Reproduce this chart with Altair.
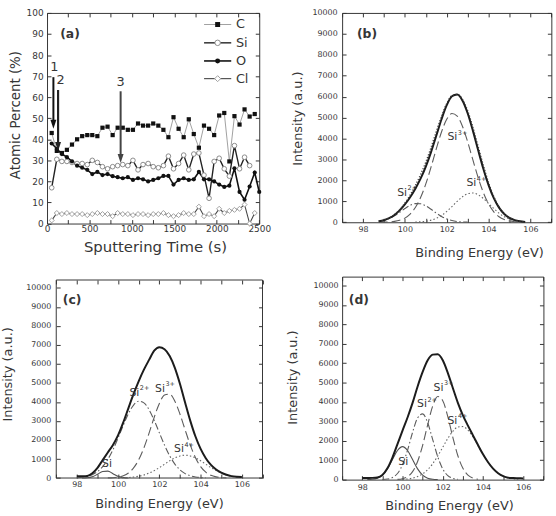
import altair as alt
import pandas as pd

FONT = "DejaVu Sans"
INK = "#363636"
ONE = alt.Data(values=[{}])
ARROW = "M-1,-3L1,-3L0,0Z"

# ---------------- (a) depth profile: atomic percent vs sputtering time ----------------
sputter_time = [55, 115, 175, 234, 294, 354, 414, 474, 533, 593, 653, 713, 773, 832,
                892, 952, 1012, 1072, 1131, 1191, 1251, 1311, 1371, 1430, 1490, 1550,
                1610, 1670, 1729, 1789, 1849, 1909, 1969, 2028, 2088, 2148, 2208, 2268,
                2327, 2387, 2447, 2500]
carbon = [43, 34.5, 33.5, 35, 37.5, 40, 41.5, 42, 42, 41.5, 45.5, 46, 42, 45.5, 45.5, 44.5,
          44.5, 47.5, 46.5, 46.5, 47.5, 46.5, 44.5, 41, 50.5, 45, 41, 49.5, 42.5, 36, 46.5,
          45, 42, 51.3, 52.5, 29.5, 51, 47, 54.2, 50.8, 52]
silicon = [17, 30.5, 29.5, 29.5, 29, 28.5, 28.5, 28, 30, 29, 27, 26, 27, 27.5, 28, 27.5, 30,
           25.5, 28, 28.5, 27, 26.5, 27.5, 32, 26, 28.5, 32.5, 25.5, 33, 33.5, 23, 12, 29.5,
           31, 26, 22.5, 37, 26, 31.5, 27.5]
oxygen = [38, 35.5, 33, 31.5, 29.5, 27.5, 26.5, 25.5, 23.5, 24.5, 23, 23.5, 22.5, 22, 21.5,
          22, 20.7, 21.5, 21, 20, 20.7, 21.5, 22.6, 22.6, 18.5, 20.7, 21.5, 20.7, 21, 24.5,
          21, 21, 20, 18.5, 17.4, 18, 26.2, 15, 11.3, 17.6, 24.2, 15]
chlorine = [1.5, 5, 4.5, 5, 4.5, 4.5, 4.5, 4, 4.5, 5, 4.5, 4.5, 3.5, 5, 4.5, 4.5, 4, 4.5,
            4.5, 4, 4.5, 4.5, 5, 4, 3.5, 4, 5, 4.5, 4.5, 8, 3.5, 4.5, 3.5, 7, 5, 6, 6.5, 7,
            9, 0, 5]

# ---------------- Si 2p spectra and their component fits ----------------
energy_b = [98.75, 99.0, 99.25, 99.5, 99.75, 100.0, 100.25, 100.5, 100.75, 101.0, 101.25,
            101.5, 101.75, 102.0, 102.25, 102.5, 102.75, 103.0, 103.25, 103.5, 103.75, 104.0,
            104.25, 104.5, 104.75, 105.0, 105.25, 105.5, 105.75]
fit_b = [45, 98, 195, 348, 567, 852, 1196, 1605, 2084, 2662, 3352, 4130, 4919, 5594, 6022,
         6106, 5821, 5210, 4377, 3453, 2556, 1773, 1150, 697, 393, 207, 100, 45, 19]
measured_b = [60, 110, 210, 370, 610, 920, 1300, 1760, 2280, 2880, 3580, 4330, 5060, 5680,
              6050, 6110, 5880, 5330, 4540, 3630, 2720, 1900, 1230, 740, 410, 210, 100, 45, 20]
si2_b = [43, 92, 178, 307, 473, 654, 807, 892, 882, 781, 618, 438, 278, 158, 80, 36, 15, 5,
         0, 0, 0, 0, 0, 0, 0, 0, 0, 0, 0]
si3_b = [2, 6, 17, 41, 94, 198, 389, 704, 1180, 1832, 2633, 3503, 4314, 4919, 5192, 5073,
         4589, 3843, 2979, 2138, 1420, 874, 497, 262, 128, 58, 24, 9, 3]
si4_b = [0, 0, 0, 0, 0, 0, 0, 9, 22, 49, 101, 189, 327, 517, 750, 997, 1217, 1362, 1398,
         1315, 1136, 899, 653, 435, 265, 149, 76, 36, 16]

energy_cd = [98.0, 98.25, 98.5, 98.75, 99.0, 99.25, 99.5, 99.75, 100.0, 100.25, 100.5,
             100.75, 101.0, 101.25, 101.5, 101.75, 102.0, 102.25, 102.5, 102.75, 103.0,
             103.25, 103.5, 103.75, 104.0, 104.25, 104.5, 104.75, 105.0, 105.25, 105.5,
             105.75, 106.0]
fit_c = [90, 95, 110, 250, 537, 944, 1345, 1741, 2254, 2928, 3682, 4424, 5102, 5702, 6216,
         6700, 6880, 6780, 6420, 5800, 4950, 3963, 3009, 2185, 1532, 1045, 691, 450, 283,
         170, 100, 70, 60]
si0_c = [0, 2, 14, 68, 198, 347, 365, 230, 87, 20, 3, 0, 0, 0, 0, 0, 0, 0, 0, 0, 0, 0, 0,
         0, 0, 0, 0, 0, 0, 0, 0, 0, 0]
si2_c = [17, 39, 87, 178, 339, 597, 980, 1493, 2112, 2775, 3387, 3840, 4044, 3956, 3593,
         3032, 2377, 1730, 1170, 735, 428, 232, 117, 55, 24, 10, 0, 0, 0, 0, 0, 0, 0]
si3_c = [0, 0, 0, 0, 0, 0, 6, 18, 49, 120, 265, 531, 963, 1584, 2363, 3199, 3927, 4373,
         4415, 4044, 3359, 2531, 1729, 1071, 602, 307, 142, 60, 23, 8, 0, 0, 0]
si4_c = [0, 0, 0, 0, 0, 0, 0, 0, 6, 13, 27, 53, 95, 162, 260, 390, 549, 728, 906, 1059,
         1163, 1200, 1163, 1059, 906, 728, 549, 390, 260, 162, 95, 53, 27]

fit_d = [80, 85, 90, 110, 236, 581, 1136, 1828, 2528, 3202, 3954, 4800, 5550, 6150, 6440,
         6460, 6150, 5500, 4720, 3956, 3315, 2782, 2280, 1783, 1303, 893, 566, 332, 181,
         100, 80, 70, 60]
si0_d = [0, 4, 19, 75, 230, 552, 1031, 1500, 1700, 1500, 1031, 552, 230, 75, 19, 4, 0, 0,
         0, 0, 0, 0, 0, 0, 0, 0, 0, 0, 0, 0, 0, 0, 0]
si2_d = [0, 0, 0, 0, 6, 29, 105, 315, 765, 1513, 2433, 3182, 3386, 2930, 2062, 1180, 550,
         208, 64, 16, 0, 0, 0, 0, 0, 0, 0, 0, 0, 0, 0, 0, 0]
si3_d = [0, 0, 0, 0, 0, 0, 0, 13, 48, 153, 411, 930, 1768, 2825, 3795, 4285, 4068, 3246,
         2177, 1228, 582, 232, 78, 22, 0, 0, 0, 0, 0, 0, 0, 0, 0]
si4_d = [0, 0, 0, 0, 0, 0, 0, 0, 15, 36, 79, 159, 296, 512, 820, 1216, 1668, 2119, 2491,
         2712, 2733, 2550, 2202, 1761, 1303, 893, 566, 332, 181, 91, 42, 18, 0]


def axis(orient, values, offset, pad=2, size=8, title=None, tx=0, ty=0, tsize=13,
         expr=None, labels=True):
    kw = dict(orient=orient, values=values, offset=offset, domain=False, grid=False,
              tickSize=4, tickColor=INK, tickWidth=1, labels=labels, labelFont=FONT,
              labelFontSize=size, labelColor=INK, labelPadding=pad, labelOverlap=False,
              labelFlush=False, format="d")
    if expr:
        kw["labelExpr"] = expr
    if title:
        kw.update(title=title, titleFont=FONT, titleFontSize=tsize, titleFontWeight="normal",
                  titleColor=INK, titleX=tx, titleY=ty, titleBaseline="middle",
                  titleAlign="center", titleAngle=270 if orient == "left" else 0)
    else:
        kw["title"] = None
    return alt.Axis(**kw)


def at(sx, sy, x, y):
    return dict(x=alt.X(datum=x, type="quantitative", scale=sx, axis=None),
                y=alt.Y(datum=y, type="quantitative", scale=sy, axis=None))


def edge_ticks(sx, sy, xvals, yvals, top_off=-4, right_off=-4):
    # invisible mark carrying the inward ticks of the top and right frame edges
    return alt.Chart(ONE).mark_point(opacity=0).encode(
        x=alt.X(datum=xvals[1], type="quantitative", scale=sx,
                axis=axis("top", xvals, top_off, labels=False)),
        y=alt.Y(datum=yvals[1], type="quantitative", scale=sy,
                axis=axis("right", yvals, right_off, labels=False)))


def panel_tag(sx, sy, x, y, tag):
    return alt.Chart(ONE).mark_text(text=tag, font=FONT, fontSize=12.5, fontWeight="bold",
                                    color=INK, align="left", baseline="middle"
                                    ).encode(**at(sx, sy, x, y))


def si_label(sx, sy, x, y, sup):
    main = alt.Chart(ONE).mark_text(text="Si", font=FONT, fontSize=11, color=INK,
                                    align="center", baseline="middle"
                                    ).encode(**at(sx, sy, x, y))
    out = [main]
    if sup:
        out.append(alt.Chart(ONE).mark_text(text=sup, font=FONT, fontSize=6.5, color=INK,
                                            align="left", baseline="middle", dx=5.5, dy=-4.5
                                            ).encode(**at(sx, sy, x, y)))
    return out


def curve(energy, values, sx, sy, style, xaxis=None, yaxis=None, keep_all=False):
    rows = [(e, v) for e, v in zip(energy, values) if keep_all or v > 0]
    df = pd.DataFrame(rows, columns=["e", "i"])
    return alt.Chart(df).mark_line(interpolate="monotone", **style).encode(
        x=alt.X("e:Q", scale=sx, axis=xaxis), y=alt.Y("i:Q", scale=sy, axis=yaxis))


FIT = dict(color="#1c1c1c", strokeWidth=2)
MEAS = dict(color="#3a3a3a", strokeWidth=1.3, strokeDash=[1.2, 1.8])
SI3 = dict(color="#5c5c5c", strokeWidth=1.1, strokeDash=[9, 4])
SI2 = dict(color="#5c5c5c", strokeWidth=1.1, strokeDash=[7, 2.5, 1.5, 2.5])
SI4 = dict(color="#666666", strokeWidth=1.1, strokeDash=[1.5, 2.2])
SI0 = dict(color="#505050", strokeWidth=1.1)
EV_TICKS = list(range(97, 108))
EVEN = "datum.value % 2 === 0 ? datum.label : ''"
INT_TICKS = list(range(0, 10001, 1000))

# ---------------- panel (a) ----------------
SX_A = alt.Scale(domain=[0, 2500], nice=False, zero=False)
SY_A = alt.Scale(domain=[0, 100], nice=False)
a_bottom = axis("bottom", list(range(0, 2501, 250)), -4, pad=1.5, size=9,
                title="Sputtering Time (s)", tx=109, ty=27, tsize=15,
                expr="datum.value % 500 === 0 ? datum.label : ''")
a_left = axis("left", list(range(0, 101, 10)), -4, pad=4, size=9,
              title="Atomic Percent (%)", tx=-35.7, ty=102.7, tsize=13.5)

series_style = [
    (carbon, "#a0a0a0", 1.0, "square", 18, "#111111", "#111111", 0),
    (chlorine, "#454545", 1.1, "diamond", 26, "white", "#a0a0a0", 1),
    (silicon, "#222222", 1.4, "circle", 22, "white", "#8c8c8c", 1),
    (oxygen, "#111111", 1.6, "circle", 18, "#111111", "#111111", 0),
]
a_lines, a_pts = [], []
for k, (vals, lc, lw, shp, sz, fc, sc, sw) in enumerate(series_style):
    df = pd.DataFrame({"t": sputter_time[:len(vals)], "v": vals})
    a_lines.append(alt.Chart(df).mark_line(color=lc, strokeWidth=lw).encode(
        x=alt.X("t:Q", scale=SX_A, axis=a_bottom if k == 0 else None),
        y=alt.Y("v:Q", scale=SY_A, axis=a_left if k == 0 else None)))
    a_pts.append(alt.Chart(df).mark_point(shape=shp, size=sz, filled=True, fill=fc, stroke=sc,
                                          strokeWidth=sw, opacity=1).encode(
        x=alt.X("t:Q", scale=SX_A, axis=None), y=alt.Y("v:Q", scale=SY_A, axis=None)))

legend_layers = []
for name, yy, idx in [("C", 94.5, 0), ("Si", 85.8, 2), ("O", 77.2, 3), ("Cl", 68.8, 1)]:
    _, lc, lw, shp, sz, fc, sc, sw = series_style[idx]
    legend_layers.append(alt.Chart(ONE).mark_rule(color=lc, strokeWidth=lw).encode(
        **at(SX_A, SY_A, 1850, yy), x2=alt.datum(2170)))
    legend_layers.append(alt.Chart(ONE).mark_point(shape=shp, size=sz * 1.4, filled=True,
                                                   fill=fc, stroke=sc, strokeWidth=sw,
                                                   opacity=1).encode(**at(SX_A, SY_A, 2010, yy)))
    legend_layers.append(alt.Chart(ONE).mark_text(text=name, font=FONT, fontSize=13, color=INK,
                                                  align="left", baseline="middle"
                                                  ).encode(**at(SX_A, SY_A, 2225, yy)))

arrow_layers = []
for tx, top, tip, tag, lx, ly, col, w in [(75, 69.5, 45.0, "1", 86, 74.5, "#111111", 2),
                                          (130, 63.4, 34.5, "2", 160, 68.2, "#222222", 2.2),
                                          (867, 62.8, 28.8, "3", 867, 67.2, "#444444", 2)]:
    arrow_layers.append(alt.Chart(ONE).mark_rule(color=col, strokeWidth=w).encode(
        **at(SX_A, SY_A, tx, top), y2=alt.datum(tip + 2)))
    arrow_layers.append(alt.Chart(ONE).mark_point(shape=ARROW, size=36, filled=True, fill=col,
                                                  strokeWidth=0, opacity=1
                                                  ).encode(**at(SX_A, SY_A, tx, tip)))
    arrow_layers.append(alt.Chart(ONE).mark_text(text=tag, font=FONT, fontSize=13, color=INK,
                                                 align="center", baseline="middle"
                                                 ).encode(**at(SX_A, SY_A, lx, ly)))

pa = alt.layer(*a_lines, *a_pts, *legend_layers, *arrow_layers,
               panel_tag(SX_A, SY_A, 155, 89.8, "(a)"),
               edge_ticks(SX_A, SY_A, list(range(0, 2501, 250)), list(range(0, 101, 10)))
               ).properties(width=214.3, height=212.7)

# ---------------- panel (b) ----------------
SX_B = alt.Scale(domain=[97, 107], nice=False, zero=False)
SY_B = alt.Scale(domain=[0, 10000], nice=False)
b_bottom = axis("bottom", EV_TICKS, -4, pad=3, size=8, title="Binding Energy (eV)",
                tx=138.3, ty=34.3, expr=EVEN)
b_left = axis("left", INT_TICKS, -4, pad=5, size=8, title="Intensity (a.u.)", tx=-48.7, ty=106.2)
pb = alt.layer(
    curve(energy_b, si2_b, SX_B, SY_B, SI2, b_bottom, b_left),
    curve(energy_b, si4_b, SX_B, SY_B, SI4),
    curve(energy_b, si3_b, SX_B, SY_B, SI3),
    curve(energy_b, fit_b, SX_B, SY_B, FIT, keep_all=True),
    curve(energy_b, measured_b, SX_B, SY_B, MEAS, keep_all=True),
    *si_label(SX_B, SY_B, 99.87, 1400, "2+"),
    *si_label(SX_B, SY_B, 102.27, 4060, "3+"),
    *si_label(SX_B, SY_B, 103.18, 1860, "4+"),
    panel_tag(SX_B, SY_B, 97.71, 8975, "(b)"),
    edge_ticks(SX_B, SY_B, EV_TICKS, INT_TICKS),
).properties(width=211.3, height=211.4)

# ---------------- panel (c) ----------------
# the plot area is a little wider/taller than the drawn frame; axes are pulled in to the frame
SX_C = alt.Scale(domain=[96.5535, 107.2255], nice=False, zero=False)
SY_C = alt.Scale(domain=[0, 10598], nice=False)
c_bottom = axis("bottom", EV_TICKS, -4, pad=3, size=8, title="Binding Energy (eV)",
                tx=113, ty=29.3, expr=EVEN)
c_left = axis("left", INT_TICKS, -13.3, pad=5.5, size=8, title="Intensity (a.u.)", tx=-53, ty=98.2)
c_frame = alt.Chart(ONE).mark_rect(fill="transparent", stroke=INK, strokeWidth=1).encode(
    **at(SX_C, SY_C, 97, 0), x2=alt.datum(107), y2=alt.datum(10420))
pc = alt.layer(
    c_frame,
    curve(energy_cd, si0_c, SX_C, SY_C, SI0, c_bottom, c_left),
    curve(energy_cd, si2_c, SX_C, SY_C, SI2),
    curve(energy_cd, si4_c, SX_C, SY_C, SI4),
    curve(energy_cd, si3_c, SX_C, SY_C, SI3),
    curve(energy_cd, fit_c, SX_C, SY_C, FIT, keep_all=True),
    *si_label(SX_C, SY_C, 99.46, 750, ""),
    *si_label(SX_C, SY_C, 100.79, 4480, "2+"),
    *si_label(SX_C, SY_C, 102.03, 4705, "3+"),
    *si_label(SX_C, SY_C, 102.95, 1500, "4+"),
    panel_tag(SX_C, SY_C, 97.32, 9344, "(c)"),
    edge_ticks(SX_C, SY_C, EV_TICKS, INT_TICKS, top_off=-7.4, right_off=-8.7),
).properties(width=222.3, height=203.4, view=alt.ViewBackground(stroke="transparent"))

# ---------------- panel (d) ----------------
SX_D = alt.Scale(domain=[97, 107], nice=False, zero=False)
SY_D = alt.Scale(domain=[0, 10459], nice=False)
d_bottom = axis("bottom", EV_TICKS, -4, pad=4, size=8, title="Binding Energy (eV)",
                tx=108, ty=29.7, expr=EVEN)
d_left = axis("left", INT_TICKS, -4, pad=4, size=8, title="Intensity (a.u.)", tx=-54, ty=101.4)
pd_ = alt.layer(
    curve(energy_cd, si0_d, SX_D, SY_D, SI0, d_bottom, d_left),
    curve(energy_cd, si2_d, SX_D, SY_D, SI2),
    curve(energy_cd, si4_d, SX_D, SY_D, SI4),
    curve(energy_cd, si3_d, SX_D, SY_D, SI3),
    curve(energy_cd, fit_d, SX_D, SY_D, FIT, keep_all=True),
    *si_label(SX_D, SY_D, 100.04, 900, ""),
    *si_label(SX_D, SY_D, 100.97, 3880, "2+"),
    *si_label(SX_D, SY_D, 101.79, 4730, "3+"),
    *si_label(SX_D, SY_D, 102.48, 3030, "4+"),
    panel_tag(SX_D, SY_D, 97.33, 9235, "(d)"),
    edge_ticks(SX_D, SY_D, EV_TICKS, INT_TICKS),
).properties(width=203.3, height=205)

chart = alt.concat(
    pa, pb, pc, pd_, columns=2, bounds="flush", align="none",
    spacing={"row": 53.3, "column": 75},
).properties(
    padding={"left": 0.5, "top": 5.5, "right": 3, "bottom": 2}
).configure(font=FONT).configure_view(stroke=INK, strokeWidth=1)

chart.save("out.html", embed_options={"renderer": "svg", "actions": False})
